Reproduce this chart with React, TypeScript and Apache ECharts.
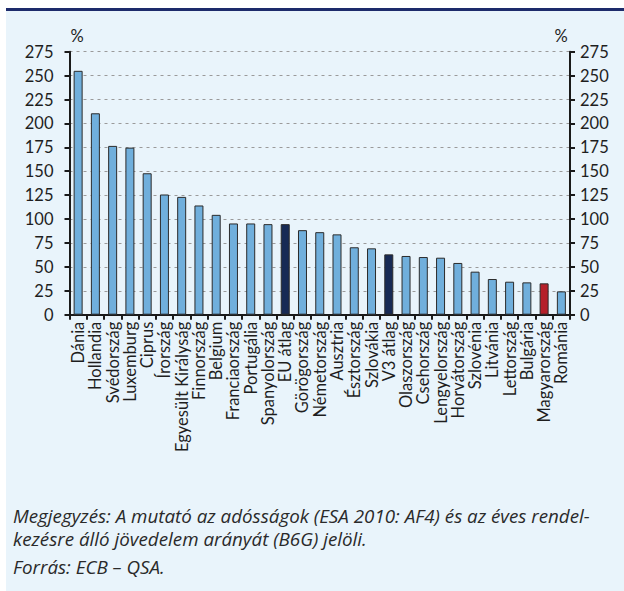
import React, { useEffect, useRef } from "react";
import * as echarts from "echarts";

const categories = [
  "Dánia", "Hollandia", "Svédország", "Luxemburg", "Ciprus", "Írország",
  "Egyesült Királyság", "Finnország", "Belgium", "Franciaország", "Portugália",
  "Spanyolország", "EU átlag", "Görögország", "Németország", "Ausztria",
  "Észtország", "Szlovákia", "V3 átlag", "Olaszország", "Csehország",
  "Lengyelország", "Horvátország", "Szlovénia", "Litvánia", "Lettország",
  "Bulgária", "Magyarország", "Románia",
];
const values = [
  255, 210.6, 176.5, 174.7, 147.9, 125.7, 123.2, 114.2, 104.4, 95.4, 95.4,
  94.7, 94.7, 88.4, 86.3, 84, 70.5, 69.4, 63.1, 61.4, 60.3, 59.6, 54.1, 45.0,
  37.3, 34.5, 33.8, 32.8, 24.4,
];
const averageCategories = ["EU átlag", "V3 átlag"];
const highlightCategories = ["Magyarország"];
const yTicks = [0, 25, 50, 75, 100, 125, 150, 175, 200, 225, 250, 275];
const unitLabel = "%";
const noteLines = [
  "Megjegyzés: A mutató az adósságok (ESA 2010: AF4) és az éves rendel-",
  "kezésre álló jövedelem arányát (B6G) jelöli.",
];
const sourceLine = "Forrás: ECB – QSA.";

const FONT = "Lato";
const NOTE_FONT = "'Open Sans'";
const TEXT = "#1e1e1e";

export default function App() {
  const ref = useRef<HTMLDivElement>(null);
  useEffect(() => {
    if (!ref.current) return;
    const chart = echarts.init(ref.current, undefined, { renderer: "svg" });
    const yMin = yTicks[0];
    const yMax = yTicks[yTicks.length - 1];
    const yInt = yTicks[1] - yTicks[0];
    const data = categories.map((c, i) => ({
      value: values[i],
      itemStyle: {
        color: averageCategories.includes(c)
          ? "#172a55"
          : highlightCategories.includes(c)
          ? "#b5202a"
          : "#70afdc",
      },
    }));
    const yAxisBase = {
      type: "value" as const,
      min: yMin,
      max: yMax,
      interval: yInt,
      axisLine: { show: true, lineStyle: { color: "#1a1a1a", width: 2 } },
      axisTick: { show: true, inside: false, length: 5, lineStyle: { color: "#1a1a1a", width: 2 } },
    };
    const noteStyle = (text: string) => ({
      text,
      font: `italic 18.8px ${NOTE_FONT}`,
      lineHeight: 18,
      fill: "#2a2a2a",
      textVerticalAlign: "middle",
    });
    chart.setOption({
      animation: false,
      backgroundColor: "transparent",
      graphic: [
        { type: "rect", z: -10, shape: { x: 6, y: 11, width: 618, height: 580 }, style: { fill: "#e9f4fb" } },
        { type: "rect", z: -10, shape: { x: 6, y: 8, width: 618, height: 3 }, style: { fill: "#1d2b6b" } },
        { type: "text", x: 77, y: 36, style: { text: unitLabel, font: `16.5px ${FONT}`, fill: TEXT, textAlign: "center", textVerticalAlign: "middle" } },
        { type: "text", x: 561, y: 36, style: { text: unitLabel, font: `16.5px ${FONT}`, fill: TEXT, textAlign: "center", textVerticalAlign: "middle" } },
        { type: "text", x: 13, y: 515.5, style: noteStyle(noteLines[0]) },
        { type: "text", x: 13, y: 539, style: noteStyle(noteLines[1]) },
        { type: "text", x: 13, y: 566.5, style: noteStyle(sourceLine) },
      ],
      grid: { left: 69.5, right: 54, top: 51.7, bottom: 276.3, containLabel: false },
      xAxis: {
        type: "category",
        data: categories,
        boundaryGap: true,
        axisLine: { show: true, lineStyle: { color: "#1a1a1a", width: 2 } },
        axisTick: { show: true, alignWithLabel: false, length: 5, lineStyle: { color: "#1a1a1a", width: 2 } },
        axisLabel: { rotate: 90, interval: 0, margin: 7, color: TEXT, fontFamily: FONT, fontSize: 16.5 },
        splitLine: { show: false },
      },
      yAxis: [
        {
          ...yAxisBase,
          position: "left",
          axisLabel: { margin: 16, color: TEXT, fontFamily: FONT, fontSize: 16.5, padding: [5, 0, 0, 0] },
          splitLine: { show: true, lineStyle: { color: "#9a9a9a", width: 1, type: [3, 4] } },
        },
        {
          ...yAxisBase,
          position: "right",
          axisLabel: { margin: 10, color: TEXT, fontFamily: FONT, fontSize: 16.5, padding: [5, 0, 0, 0] },
          splitLine: { show: false },
        },
      ],
      series: [
        {
          type: "bar",
          data,
          barWidth: 9,
          itemStyle: { borderColor: "#2b2b2b", borderWidth: 1 },
        },
      ],
    });
    return () => chart.dispose();
  }, []);
  return (
    <div
      ref={ref}
      style={{ position: "absolute", left: 0, top: 0, width: 624, height: 591, background: "#ffffff" }}
    />
  );
}
